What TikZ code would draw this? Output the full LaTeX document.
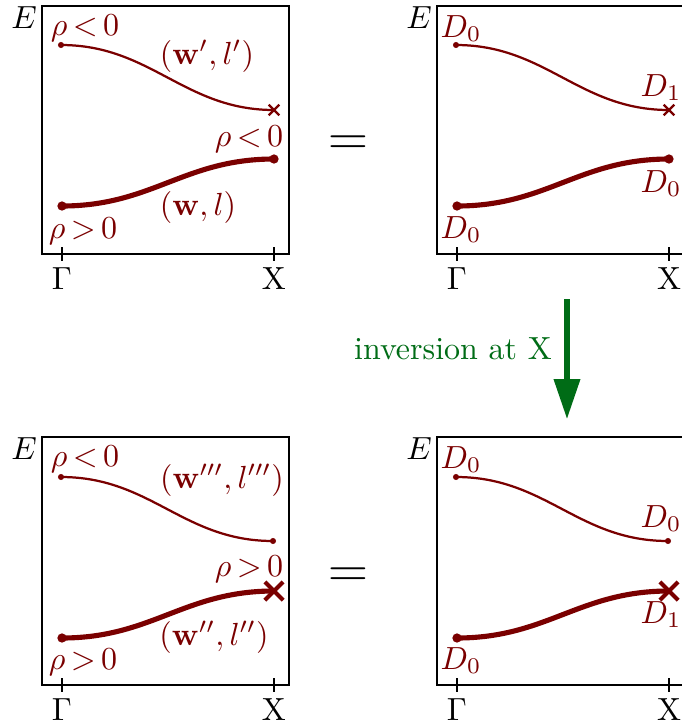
\documentclass[tikz,border=0pt]{standalone}
\usetikzlibrary{arrows.meta,shapes.misc}
\definecolor{band}{RGB}{122,0,0}
\definecolor{inv}{RGB}{0,108,22}
\begin{document}
\begin{tikzpicture}[x=0.3125pt,y=-0.3125pt,
  frame/.style={line width=0.6pt},
  thinband/.style={band,line width=0.7pt},
  thickband/.style={band,line width=1.6pt},
  smalldot/.style={circle,fill=band,inner sep=0pt,minimum size=1.9pt},
  bigdot/.style={circle,fill=band,inner sep=0pt,minimum size=2.9pt},
  smallcross/.style={cross out,draw=band,line width=0.75pt,inner sep=0pt,minimum size=2.6pt},
  bigcross/.style={cross out,draw=band,line width=1.3pt,inner sep=0pt,minimum size=4.4pt},
  lbl/.style={text=band,inner sep=0pt,anchor=base},
  axlbl/.style={inner sep=0pt,anchor=base},
  eqsign/.style={inner sep=0pt,anchor=base,font=\fontsize{19}{20}\selectfont}]
\useasboundingbox (0,0) rectangle (681,726);

% ---------- top left ----------
\begin{scope}[name prefix=tl-]
  \draw[frame] (42,6) rectangle (289,254);
  \coordinate (tg) at (62,254); \coordinate (tx) at (274,254);
  \draw[frame] ([yshift=7*0.3125pt]tg) -- ([yshift=-7*0.3125pt]tg);
  \draw[frame] ([yshift=7*0.3125pt]tx) -- ([yshift=-7*0.3125pt]tx);
  \node[axlbl] (G) at (62,289) {$\Gamma$};
  \node[axlbl] (X) at (274,289) {X};
  \node[axlbl] (E) at (24,28) {$E$};
  \coordinate (ua) at (61,45); \coordinate (ub) at (274,110);
  \coordinate (la) at (62,206); \coordinate (lb) at (274,159);
  \draw[thinband] (ua) .. controls +(90,0) and +(-90,0) .. (ub);
  \draw[thickband] (la) .. controls +(90,0) and +(-90,0) .. (lb);
  \node[smalldot] (uad) at (ua) {};
  \node[smallcross] (ubd) at (ub) {};
  \node[bigdot] (lad) at (la) {};
  \node[bigdot] (lbd) at (lb) {};
  \node[lbl] (l1) at (85,35) {$\rho\,{<}\,0$};
  \node[lbl] (l2) at (207,64) {$(\mathbf{w}',l')$};
  \node[lbl] (l3) at (249,146) {$\rho\,{<}\,0$};
  \node[lbl] (l4) at (198,215) {$(\mathbf{w},l)$};
  \node[lbl] (l5) at (83,238) {$\rho\,{>}\,0$};
\end{scope}

\node[eqsign] (eq1) at (348,155) {$=$};

% ---------- top right ----------
\begin{scope}[shift={(395,0)},name prefix=tr-]
  \draw[frame] (42,6) rectangle (289,254);
  \coordinate (tg) at (62,254); \coordinate (tx) at (274,254);
  \draw[frame] ([yshift=7*0.3125pt]tg) -- ([yshift=-7*0.3125pt]tg);
  \draw[frame] ([yshift=7*0.3125pt]tx) -- ([yshift=-7*0.3125pt]tx);
  \node[axlbl] (G) at (62,289) {$\Gamma$};
  \node[axlbl] (X) at (274,289) {X};
  \node[axlbl] (E) at (24,28) {$E$};
  \coordinate (ua) at (61,45); \coordinate (ub) at (274,110);
  \coordinate (la) at (62,206); \coordinate (lb) at (274,159);
  \draw[thinband] (ua) .. controls +(90,0) and +(-90,0) .. (ub);
  \draw[thickband] (la) .. controls +(90,0) and +(-90,0) .. (lb);
  \node[smalldot] (uad) at (ua) {};
  \node[smallcross] (ubd) at (ub) {};
  \node[bigdot] (lad) at (la) {};
  \node[bigdot] (lbd) at (lb) {};
  \node[lbl] (l1) at (66,37) {$D_0$};
  \node[lbl] (l2) at (266,96) {$D_1$};
  \node[lbl] (l3) at (266,192) {$D_0$};
  \node[lbl] (l4) at (66,238) {$D_0$};
\end{scope}

% ---------- arrow ----------
\coordinate (as) at (567,299);
\coordinate (ae) at (567,419);
\draw[inv,line width=1.6pt,-{Triangle[length=12.5pt,width=8pt]}] (as) -- (ae);
\node[text=inv,inner sep=0pt,anchor=base] (invl) at (453,359) {inversion at X};

% ---------- bottom left ----------
\begin{scope}[shift={(0,431)},name prefix=bl-]
  \draw[frame] (42,6) rectangle (289,254);
  \coordinate (tg) at (62,254); \coordinate (tx) at (274,254);
  \draw[frame] ([yshift=7*0.3125pt]tg) -- ([yshift=-7*0.3125pt]tg);
  \draw[frame] ([yshift=7*0.3125pt]tx) -- ([yshift=-7*0.3125pt]tx);
  \node[axlbl] (G) at (62,289) {$\Gamma$};
  \node[axlbl] (X) at (274,289) {X};
  \node[axlbl] (E) at (24,28) {$E$};
  \coordinate (ua) at (61,46); \coordinate (ub) at (273,110);
  \coordinate (la) at (62,207); \coordinate (lb) at (274,160);
  \draw[thinband] (ua) .. controls +(90,0) and +(-90,0) .. (ub);
  \draw[thickband] (la) .. controls +(90,0) and +(-90,0) .. (lb);
  \node[smalldot] (uad) at (ua) {};
  \node[smalldot] (ubd) at (ub) {};
  \node[bigdot] (lad) at (la) {};
  \node[bigcross] (lbd) at (lb) {};
  \node[lbl] (l1) at (85,35) {$\rho\,{<}\,0$};
  \node[lbl] (l2) at (222,57) {$(\mathbf{w}''',l''')$};
  \node[lbl] (l3) at (249,145) {$\rho\,{>}\,0$};
  \node[lbl] (l4) at (214,214) {$(\mathbf{w}'',l'')$};
  \node[lbl] (l5) at (83,238) {$\rho\,{>}\,0$};
\end{scope}

\node[eqsign] (eq2) at (348,587) {$=$};

% ---------- bottom right ----------
\begin{scope}[shift={(395,431)},name prefix=br-]
  \draw[frame] (42,6) rectangle (289,254);
  \coordinate (tg) at (62,254); \coordinate (tx) at (274,254);
  \draw[frame] ([yshift=7*0.3125pt]tg) -- ([yshift=-7*0.3125pt]tg);
  \draw[frame] ([yshift=7*0.3125pt]tx) -- ([yshift=-7*0.3125pt]tx);
  \node[axlbl] (G) at (62,289) {$\Gamma$};
  \node[axlbl] (X) at (274,289) {X};
  \node[axlbl] (E) at (24,28) {$E$};
  \coordinate (ua) at (61,46); \coordinate (ub) at (273,110);
  \coordinate (la) at (62,207); \coordinate (lb) at (274,160);
  \draw[thinband] (ua) .. controls +(90,0) and +(-90,0) .. (ub);
  \draw[thickband] (la) .. controls +(90,0) and +(-90,0) .. (lb);
  \node[smalldot] (uad) at (ua) {};
  \node[smalldot] (ubd) at (ub) {};
  \node[bigdot] (lad) at (la) {};
  \node[bigcross] (lbd) at (lb) {};
  \node[lbl] (l1) at (66,37) {$D_0$};
  \node[lbl] (l2) at (266,96) {$D_0$};
  \node[lbl] (l3) at (266,192) {$D_1$};
  \node[lbl] (l4) at (66,238) {$D_0$};
\end{scope}
\end{tikzpicture}
\end{document}
